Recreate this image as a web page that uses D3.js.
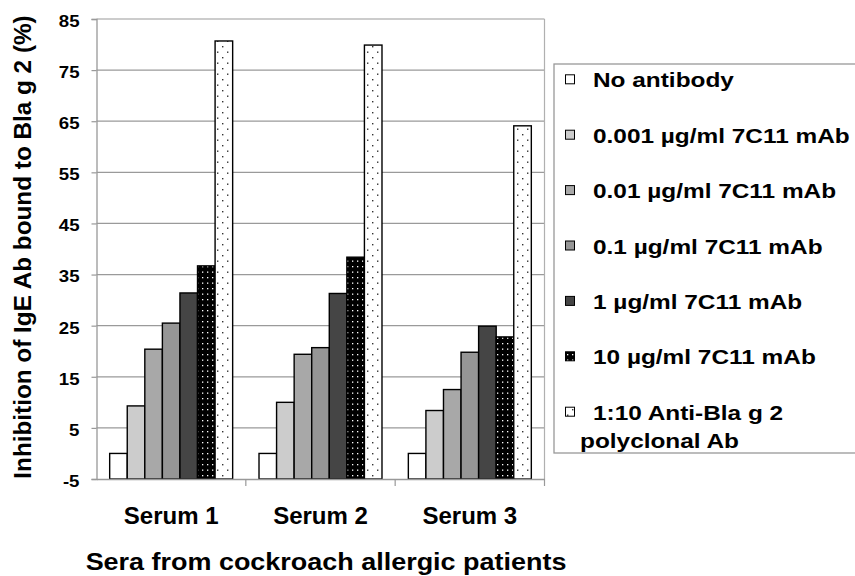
<!DOCTYPE html>
<html><head><meta charset="utf-8">
<script src="https://cdn.jsdelivr.net/npm/d3@7"></script>
<style>body{margin:0;background:#fff}svg{display:block}text{font-family:"Liberation Sans",Arial,sans-serif;font-weight:bold;fill:#000}</style>
</head><body><svg id="c" width="855" height="576"></svg>
<script>
const categories = ["Serum 1", "Serum 2", "Serum 3"];
const seriesNames = ["No antibody", "0.001 µg/ml 7C11 mAb", "0.01 µg/ml 7C11 mAb", "0.1 µg/ml 7C11 mAb", "1 µg/ml 7C11 mAb", "10 µg/ml 7C11 mAb", "1:10 Anti-Bla g 2|polyclonal Ab"];
const noAntibody = [0, 0, 0];
const mab0001 = [9.3, 10.0, 8.4];
const mab001 = [20.4, 19.4, 12.5];
const mab01 = [25.5, 20.7, 19.8];
const mab1 = [31.4, 31.3, 24.9];
const mab10 = [36.7, 38.4, 22.8];
const polyclonal = [80.7, 79.9, 64.1];
const seriesValues = [noAntibody, mab0001, mab001, mab01, mab1, mab10, polyclonal];
const yTicks = [-5, 5, 15, 25, 35, 45, 55, 65, 75, 85];
const fills = ["#ffffff", "#cccccc", "#a8a8a8", "#969696", "#454545", "url(#dotsDark)", "url(#dotsLight)"];

const svg = d3.select("#c");
const L = 96.5, R = 544.5, T = 19, B = 479;
const defs = svg.append("defs");
const p1 = defs.append("pattern").attr("id","dotsDark").attr("patternUnits","userSpaceOnUse").attr("width",10).attr("height",11);
p1.append("rect").attr("width",10).attr("height",11).attr("fill","#000");
[[2,2],[7,7.5],[7,2],[2,7.5]].forEach(([a,b]) => p1.append("rect").attr("x",a).attr("y",b).attr("width",1.3).attr("height",1.3).attr("fill","#fff"));
const p2 = defs.append("pattern").attr("id","dotsLight").attr("patternUnits","userSpaceOnUse").attr("width",10).attr("height",11);
p2.append("rect").attr("width",10).attr("height",11).attr("fill","#fff");
[[2,2],[7,7.5]].forEach(([a,b]) => p2.append("rect").attr("x",a).attr("y",b).attr("width",1.4).attr("height",1.4).attr("fill","#333"));

const y = d3.scaleLinear().domain([-5, 85]).range([B, T]);
const x0 = d3.scaleBand().domain(categories).range([L, R]).paddingInner(0).paddingOuter(0);
const x1 = d3.scaleBand().domain(d3.range(seriesNames.length)).range([0, x0.bandwidth()]).paddingOuter(0.75).paddingInner(0);

// gridlines
svg.append("g").selectAll("line").data(yTicks.filter(t => t > -5)).join("line")
  .attr("x1", L).attr("x2", R).attr("y1", d => y(d)).attr("y2", d => y(d))
  .attr("stroke", "#9a9a9a").attr("stroke-width", 1.2);
svg.append("line").attr("x1", R).attr("x2", R).attr("y1", T).attr("y2", B).attr("stroke", "#b0b0b0").attr("stroke-width", 1.2);

// bars
const g = svg.append("g");
categories.forEach((c, ci) => {
  g.append("g").selectAll("rect").data(seriesValues.map((s, si) => ({si, v: s[ci]}))).join("rect")
    .attr("x", d => x0(c) + x1(d.si)).attr("width", x1.bandwidth())
    .attr("y", d => y(d.v)).attr("height", d => y(-5) - y(d.v))
    .attr("fill", d => fills[d.si]).attr("stroke", "#000").attr("stroke-width", 1.4);
});

// y axis
const ya = svg.append("g").attr("transform", `translate(${L},0)`)
  .call(d3.axisLeft(y).tickValues(yTicks).tickSize(5).tickPadding(12).tickFormat(d => String(d)));
ya.select(".domain").attr("stroke", "#999").attr("stroke-width", 1.3);
ya.selectAll(".tick line").attr("stroke", "#999").attr("stroke-width", 1.2);
ya.selectAll(".tick text").attr("font-size", 16.5).attr("font-family", null).attr("dy", "0.45em")
  .each(function(){ const t = d3.select(this); const xx = +t.attr("x"); t.attr("x", null).attr("transform", `translate(${xx},0) scale(1.13,1)`); });

// x axis
const xa = svg.append("g").attr("transform", `translate(0,${B})`)
  .call(d3.axisBottom(x0).tickSize(0).tickPadding(0));
xa.select(".domain").attr("stroke", "#999").attr("stroke-width", 1.3);
xa.selectAll(".tick text").attr("font-size", 24).attr("font-family", null).attr("y", 45).attr("dy", 0);
svg.append("g").selectAll("line").data(categories.slice(1).map(c => x0(c)).concat([R])).join("line")
  .attr("x1", d => d).attr("x2", d => d).attr("y1", B).attr("y2", B + 7).attr("stroke", "#999").attr("stroke-width", 1.2);

// axis titles
svg.append("text").attr("transform", "translate(31,247) rotate(-90)").attr("text-anchor", "middle")
  .attr("font-size", 24.3).text("Inhibition of IgE Ab bound to Bla g 2 (%)");
svg.append("text").attr("transform", "translate(326,570) scale(1.1,1)").attr("text-anchor", "middle")
  .attr("font-size", 24.5).text("Sera from cockroach allergic patients");

// legend
svg.append("rect").attr("x", 554).attr("y", 64).attr("width", 320).attr("height", 389)
  .attr("fill", "none").attr("stroke", "#999").attr("stroke-width", 1.3);
const lg = svg.append("g");
seriesNames.forEach((name, i) => {
  const by = 87.3 + i * 55.4;
  lg.append("rect").attr("x", 565.5).attr("y", by - 12.5).attr("width", 9).attr("height", 9)
    .attr("fill", fills[i]).attr("stroke", "#000").attr("stroke-width", 1);
  name.split("|").forEach((p, k) => {
    lg.append("text").attr("transform", `translate(${k === 0 ? 593 : 580},${by + k * 28.5}) scale(1.22,1)`)
      .attr("font-size", 20).text(p);
  });
});
</script></body></html>
